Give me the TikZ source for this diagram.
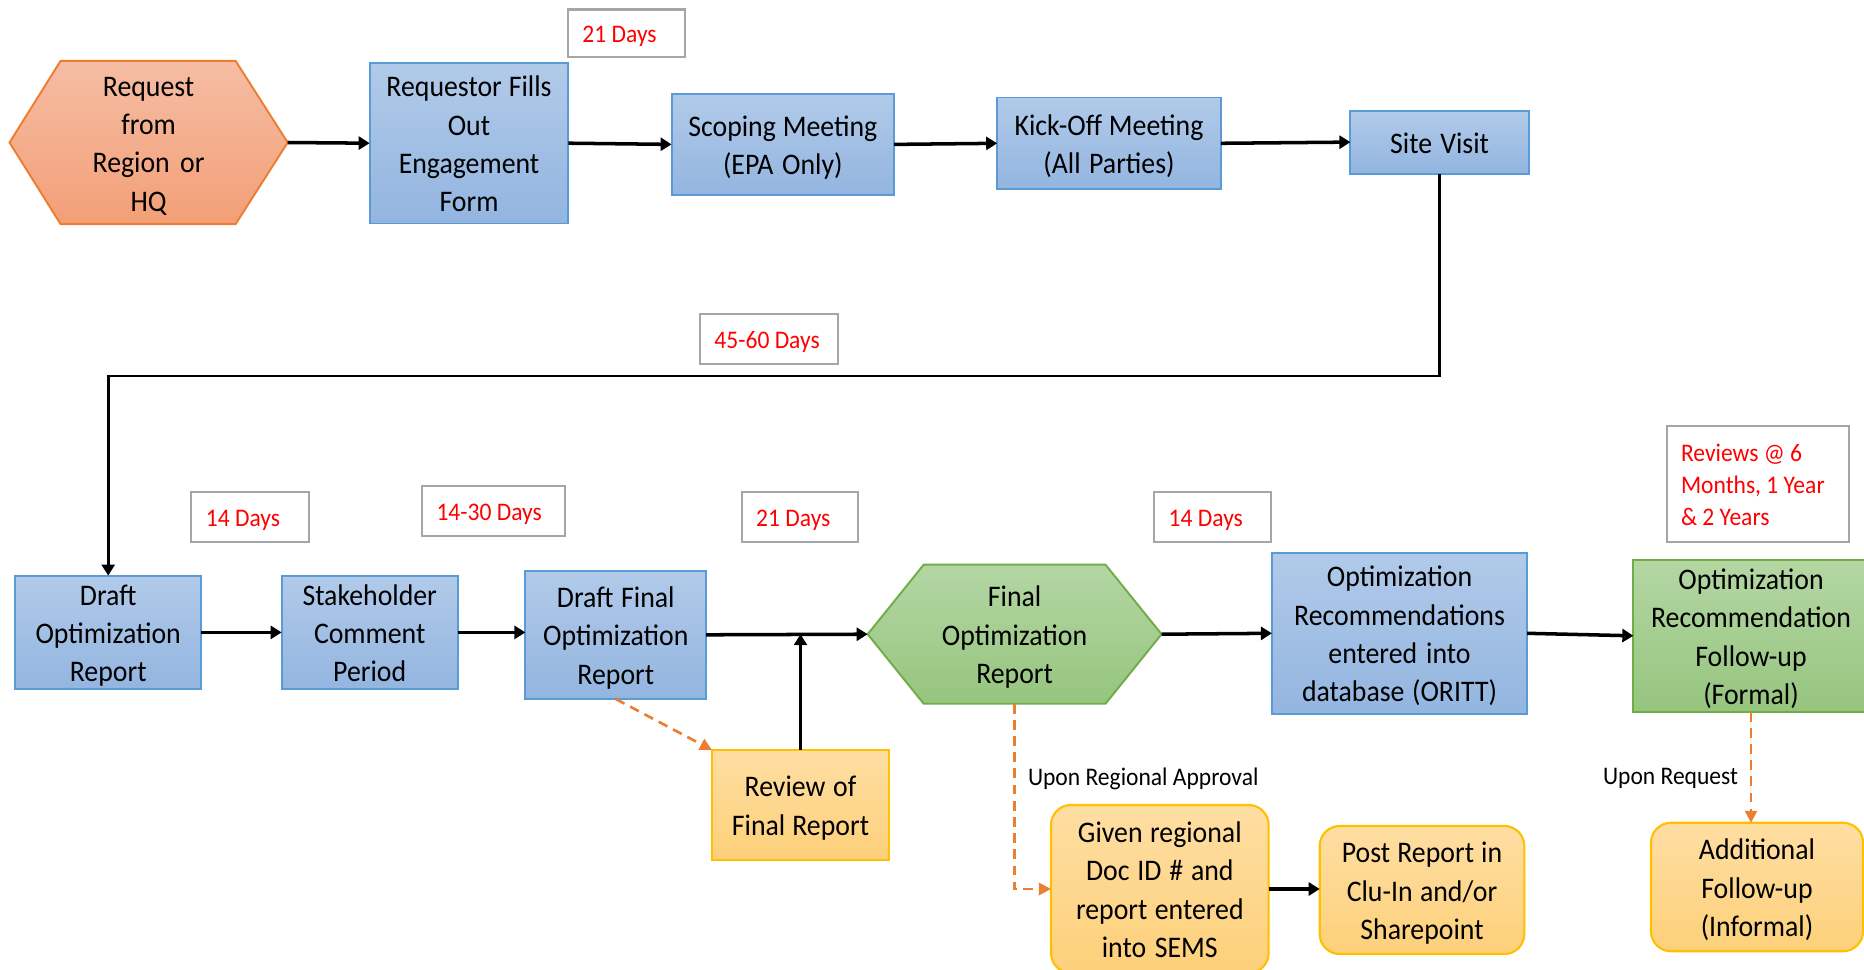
\documentclass[tikz,border=0pt]{standalone}
\usepackage{fontspec}
\setmainfont{Carlito}[FakeStretch=0.93]
\usetikzlibrary{arrows.meta}
\pgfdeclarelayer{back}
\pgfdeclarelayer{bg}
\pgfsetlayers{back,bg,main}
\definecolor{btop}{HTML}{B1CAE9}
\definecolor{bbot}{HTML}{93B5E0}
\definecolor{bborder}{HTML}{5B9BD5}
\definecolor{gtop}{HTML}{B4D6A4}
\definecolor{gbot}{HTML}{96C57E}
\definecolor{gborder}{HTML}{70AD47}
\definecolor{otop}{HTML}{F5BDA4}
\definecolor{obot}{HTML}{F39F77}
\definecolor{oborder}{HTML}{ED7D31}
\definecolor{ytop}{HTML}{FFDEA3}
\definecolor{ybot}{HTML}{FDD07A}
\definecolor{yborder}{HTML}{FFC000}
\definecolor{lgray}{HTML}{A6A6A6}
\definecolor{dorange}{HTML}{ED7D31}
\definecolor{lred}{HTML}{FF0000}
\begin{document}
\begin{tikzpicture}[x=0.01cm,y=-0.01cm,
  every node/.style={inner sep=0pt, outer sep=0pt},
  wd/.style={text width=#1, inner xsep=0.05cm},
  txt/.style={font=\fontsize{8.5}{10.9}\selectfont, align=center,
    execute at begin node={\spaceskip=0pt\xspaceskip=0pt\rule{0pt}{8.4pt}},
    execute at end node={\rule[-2.1pt]{0pt}{2.1pt}}},
  bluebox/.style={txt, rectangle, draw=bborder, line width=0.55pt, top color=btop, bottom color=bbot},
  greenbox/.style={txt, rectangle, draw=gborder, line width=0.55pt, top color=gtop, bottom color=gbot},
  yelbox/.style={txt, rectangle, draw=yborder, line width=0.6pt, top color=ytop, bottom color=ybot},
  yelround/.style={yelbox, rounded corners=0.2cm},
  hexnode/.style={txt, rectangle},
  hexorange/.style={draw=oborder, line width=0.55pt, top color=otop, bottom color=obot},
  hexgreen/.style={draw=gborder, line width=0.55pt, top color=gtop, bottom color=gbot},
  lbl/.style={rectangle, draw=lgray, line width=0.6pt, fill=white, text=lred,
    font=\fontsize{7.2}{9.1}\selectfont, align=left, inner xsep=0.145cm, inner ysep=0pt,
    execute at begin node={\spaceskip=0pt\xspaceskip=0pt\rule{0pt}{7.1pt}},
    execute at end node={\rule[-1.76pt]{0pt}{1.76pt}}},
  plain/.style={font=\fontsize{7.2}{9.1}\selectfont},
  conn/.style={draw=black, line width=1pt, -{Triangle[length=0.11cm,width=0.13cm]}},
  thinconn/.style={draw=black, line width=0.75pt, -{Triangle[length=0.11cm,width=0.13cm]}},
  dconn/.style={draw=dorange, line width=0.75pt, dash pattern=on 2.8pt off 1.8pt, -{Triangle[length=0.12cm,width=0.12cm]}},
]
\useasboundingbox (0,0) rectangle (1864,970);
\begin{pgfonlayer}{back}
\fill[white] (0,0) rectangle (1864,970);
\end{pgfonlayer}

% ---- top row ----
\node[hexnode, wd=2.68cm, minimum height=1.63cm] (req) at (148.6,142.5) {Request\\from\\Region or\\HQ};
\node[bluebox, wd=1.885cm, minimum height=1.605cm] (form) at (469,143.2) {Requestor Fills\\Out\\Engagement\\Form};
\node[bluebox, wd=2.123cm, minimum height=1.01cm] (scope) at (782.8,144.4) {Scoping Meeting\\(EPA Only)};
\node[bluebox, wd=2.135cm, minimum height=0.915cm] (kick) at (1109,143.3) {Kick-Off Meeting\\(All Parties)};
\node[bluebox, wd=1.683cm, minimum height=0.63cm] (site) at (1439.6,142.1) {Site Visit};

\node[lbl, text width=0.878cm, minimum height=0.475cm] (d21a) at (626.4,33.3) {\mbox{21 Days}};
\node[lbl, text width=1.09cm, minimum height=0.5cm] (d4560) at (769,338.8) {\mbox{45-60 Days}};

% ---- bottom row ----
\node[bluebox, wd=1.755cm, minimum height=1.093cm] (draft) at (108.2,632.4) {Draft\\Optimization\\Report};
\node[bluebox, wd=1.66cm, minimum height=1.093cm] (stake) at (369.7,632.4) {Stakeholder\\Comment\\Period};
\node[bluebox, wd=1.707cm, minimum height=1.284cm] (dfinal) at (615.8,634.8) {Draft Final\\Optimization\\Report};
\node[hexnode, wd=2.837cm, minimum height=1.39cm] (final) at (1014.6,634.2) {Final\\Optimization\\Report};
\node[bluebox, wd=2.45cm, minimum height=1.61cm] (oritt) at (1399.5,633.3) {Optimization\\Recommendations\\entered into\\database (ORITT)};
\node[greenbox, wd=2.252cm, minimum height=1.516cm] (formal) at (1751,635.8) {Optimization\\Recommendation\\Follow-up\\(Formal)};

\node[lbl, text width=0.886cm, minimum height=0.5cm] (d14a) at (250.2,517) {\mbox{14 Days}};
\node[lbl, text width=1.137cm, minimum height=0.5cm] (d1430) at (493.4,511.2) {\mbox{14-30 Days}};
\node[lbl, text width=0.875cm, minimum height=0.5cm] (d21b) at (800,517) {\mbox{21 Days}};
\node[lbl, text width=0.875cm, minimum height=0.5cm] (d14b) at (1212.5,517) {\mbox{14 Days}};
\node[lbl, text width=1.53cm, minimum height=1.164cm] (rev) at (1757.6,483.8) {\mbox{Reviews @ 6}\\\mbox{Months, 1 Year}\\\mbox{\& 2 Years}};

\node[yelbox, wd=1.67cm, minimum height=1.1cm] (review) at (800.5,805) {Review of\\Final Report};
\node[yelround, wd=2.075cm, minimum height=1.68cm] (given) at (1159.8,889) {Given regional\\Doc ID \# and\\report entered\\into SEMS};
\node[yelround, wd=1.945cm, minimum height=1.28cm] (post) at (1422,890) {Post Report in\\Clu-In and/or\\Sharepoint};
\node[yelround, wd=2.02cm, minimum height=1.284cm] (addl) at (1757,887) {Additional\\Follow-up\\(Informal)};

\node[plain, anchor=west] (appr) at (1028,778.5) {Upon Regional Approval};
\node[plain, anchor=east] (upreq) at (1738,778.5) {Upon Request};

% ---- hexagons (background layer) ----
\begin{pgfonlayer}{bg}
\path[hexorange] (req.west) -- ([xshift=0.51cm]req.north west) -- ([xshift=-0.52cm]req.north east) -- (req.east)
  -- ([xshift=-0.52cm]req.south east) -- ([xshift=0.51cm]req.south west) -- cycle;
\path[hexgreen] (final.west) -- ([xshift=0.56cm]final.north west) -- ([xshift=-0.56cm]final.north east) -- (final.east)
  -- ([xshift=-0.56cm]final.south east) -- ([xshift=0.56cm]final.south west) -- cycle;
\end{pgfonlayer}

% ---- connectors ----
\coordinate (lvl) at (0,376);
\draw[conn] (req.east) -- (form.west);
\draw[conn] (form.east) -- (scope.west);
\draw[conn] (scope.east) -- (kick.west);
\draw[conn] (kick.east) -- (site.west);
\draw[thinconn] (site.south) -- (site.south |- lvl) -| (draft.north);

\draw[conn] (draft.east) -- (stake.west);
\draw[conn] (stake.east) -- (stake.east -| dfinal.west);
\draw[conn] (dfinal.east) -- (final.west);
\draw[conn] (final.east) -- (oritt.west);
\draw[conn] (oritt.east) -- (formal.west);
\draw[thinconn] (review.north) -- (review.north |- final.west);
\draw[conn] (given.east) -- (given.east -| post.west);

\draw[dconn] (dfinal.south) -- (review.north west);
\draw[dconn] (final.south) |- (given.west);
\draw[dconn] (formal.south) -- (formal.south |- addl.north);
\end{tikzpicture}
\end{document}
